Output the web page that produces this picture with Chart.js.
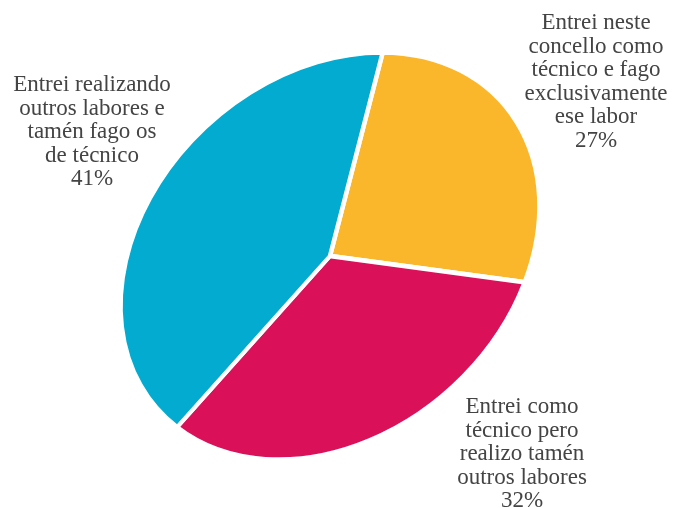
<!DOCTYPE html>
<html>
<head>
<meta charset="utf-8">
<script src="https://cdn.jsdelivr.net/npm/chart.js@4"></script>
<style>
  html, body { margin: 0; padding: 0; background: #fff; }
  #wrap { width: 673px; height: 508px; position: relative; }
</style>
</head>
<body>
<div id="wrap"><canvas id="pie-chart"></canvas></div>
<script>
// Survey answers, in drawing order (clockwise)
const categories = [
    ['Entrei neste', 'concello como', 'técnico e fago', 'exclusivamente', 'ese labor'],
    ['Entrei como', 'técnico pero', 'realizo tamén', 'outros labores'],
    ['Entrei realizando', 'outros labores e', 'tamén fago os', 'de técnico']
];
const shares = [27, 32, 41];
const sliceColors = ['#fbb72b', '#da1059', '#02abcf'];

// Pie is drawn as a circle, then squashed into a tilted ellipse
const TILT = -41.7 * Math.PI / 180;
const AXIS_A = 231;
const AXIS_B = 179;

const tiltedPie = {
    id: 'tiltedPie',
    beforeDatasetsDraw(chart) {
        const arc = chart.getDatasetMeta(0).data[0];
        const r = arc.outerRadius;
        const ctx = chart.ctx;
        ctx.save();
        ctx.translate(arc.x, arc.y);
        ctx.rotate(TILT);
        ctx.scale(AXIS_A / r, AXIS_B / r);
        ctx.translate(-arc.x, -arc.y);
    },
    afterDatasetsDraw(chart) {
        chart.ctx.restore();
    }
};

// Text blocks beside each slice
const sliceLabels = {
    id: 'sliceLabels',
    afterDraw(chart) {
        const ctx = chart.ctx;
        const anchors = [[596, 23], [522, 407], [92, 85]];
        const lineH = 23.6;
        ctx.save();
        ctx.font = '23px "Liberation Serif", serif';
        ctx.fillStyle = '#444444';
        ctx.textAlign = 'center';
        ctx.textBaseline = 'middle';
        categories.forEach((lines, i) => {
            const [x, y] = anchors[i];
            const all = lines.concat([shares[i] + '%']);
            all.forEach((t, j) => ctx.fillText(t, x, y + j * lineH));
        });
        ctx.restore();
    }
};

function createChart() {
    const ctx = document.getElementById('pie-chart').getContext('2d');
    new Chart(ctx, {
        type: 'pie',
        data: {
            labels: categories.map(c => c.join(' ')),
            datasets: [{
                data: shares,
                backgroundColor: sliceColors,
                borderColor: '#ffffff',
                borderWidth: 4.5
            }]
        },
        options: {
            responsive: true,
            maintainAspectRatio: false,
            animation: false,
            events: [],
            rotation: 49.2,
            layout: { padding: { left: 0, right: 13, top: 56, bottom: 52 } },
            plugins: {
                legend: { display: false },
                tooltip: { enabled: false }
            }
        },
        plugins: [tiltedPie, sliceLabels]
    });
}

createChart();
</script>
</body>
</html>
